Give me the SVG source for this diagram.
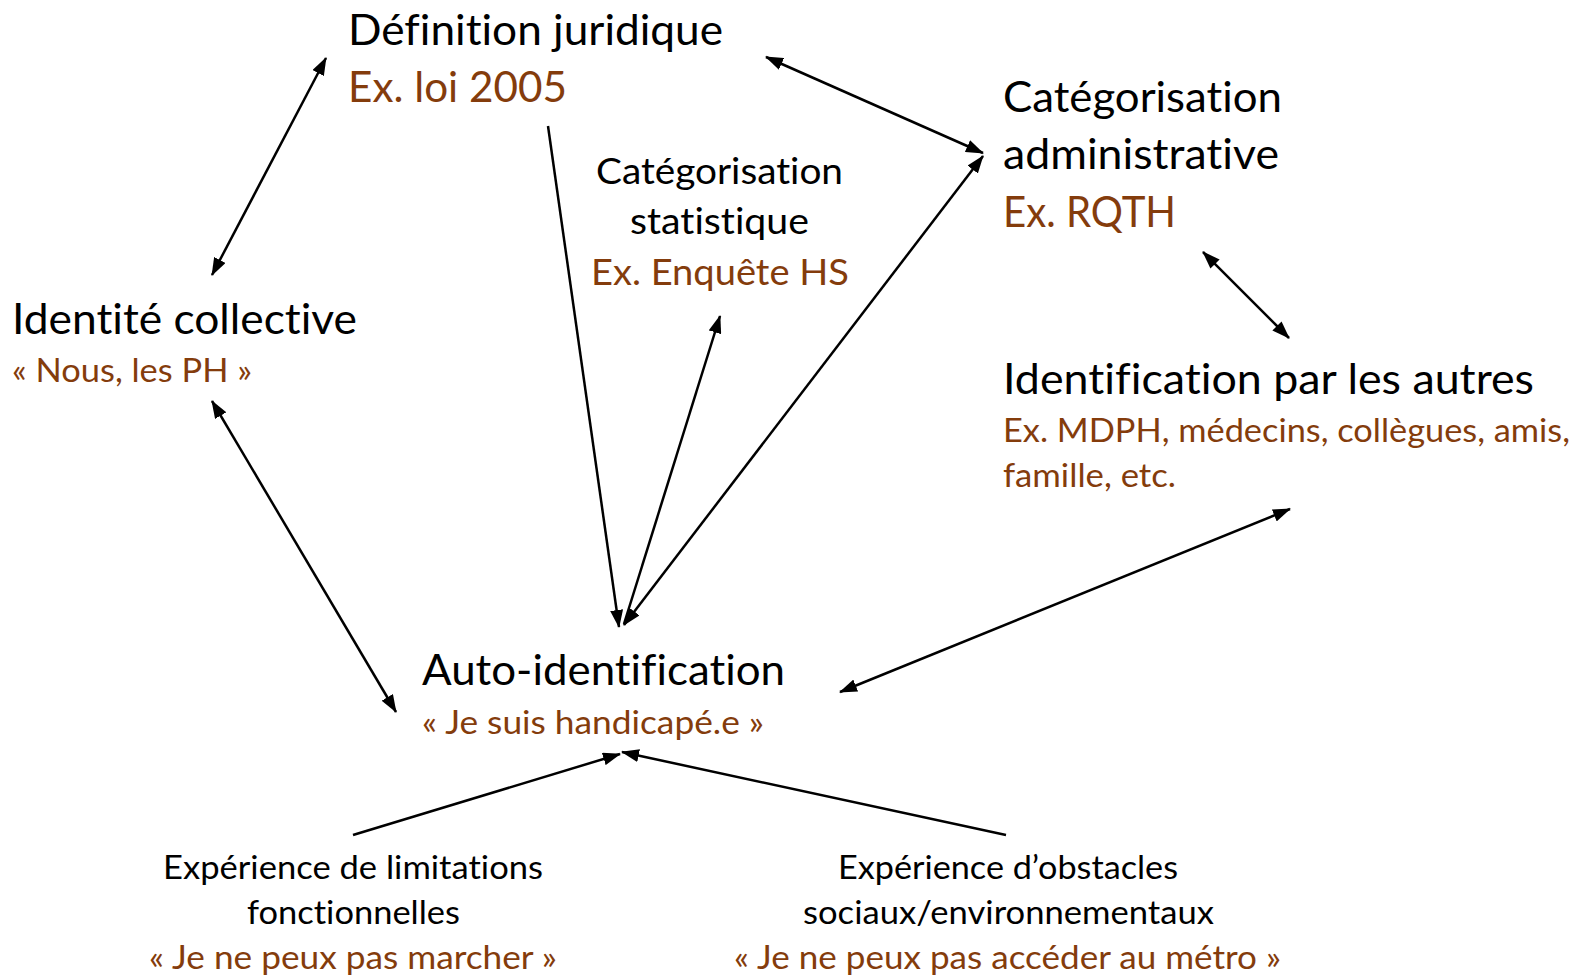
<svg xmlns="http://www.w3.org/2000/svg" width="1581" height="975" viewBox="0 0 1581 975">
<defs>
<style>
text{font-family:Lato,"Noto Sans","Liberation Sans",sans-serif;fill:#000;font-variant-ligatures:none;font-feature-settings:"liga" 0,"clig" 0}
.br{fill:#843C0C}
.big{font-size:42px}
.mid{font-size:37px}
.sm{font-size:33px}
.xs{font-size:32px}
.c line{stroke:#000;stroke-width:2.5;fill:none}
</style>
<marker id="ah" viewBox="0 0 18 13" refX="17" refY="6.5" markerWidth="18" markerHeight="13" markerUnits="userSpaceOnUse" orient="auto-start-reverse">
<path d="M0,0 L18,6.5 L0,13 Z" fill="#000"/>
</marker>
</defs>
<rect width="1581" height="975" fill="#fff"/>
<g id="connectors" class="c">
<line x1="326" y1="58" x2="212" y2="275" marker-start="url(#ah)" marker-end="url(#ah)"/>
<line x1="548" y1="126" x2="619" y2="627" marker-end="url(#ah)"/>
<line x1="624" y1="624" x2="720" y2="316" marker-end="url(#ah)"/>
<line x1="766" y1="57" x2="983" y2="153" marker-start="url(#ah)" marker-end="url(#ah)"/>
<line x1="983" y1="156" x2="624" y2="625" marker-start="url(#ah)" marker-end="url(#ah)"/>
<line x1="1203" y1="252" x2="1289" y2="338" marker-start="url(#ah)" marker-end="url(#ah)"/>
<line x1="1290" y1="509" x2="840" y2="692" marker-start="url(#ah)" marker-end="url(#ah)"/>
<line x1="212" y1="401" x2="396" y2="712" marker-start="url(#ah)" marker-end="url(#ah)"/>
<line x1="353" y1="835" x2="620" y2="754" marker-end="url(#ah)"/>
<line x1="1006" y1="835" x2="622" y2="752" marker-end="url(#ah)"/>
</g>
<g id="definition">
<text class="big" x="348" y="45" textLength="375" lengthAdjust="spacingAndGlyphs">Définition juridique</text>
<text class="big br" x="348" y="102" textLength="219" lengthAdjust="spacingAndGlyphs">Ex. loi 2005</text>
</g>
<g id="statistique">
<text class="mid" x="596" y="184" textLength="247" lengthAdjust="spacingAndGlyphs">Catégorisation</text>
<text class="mid" x="630" y="234" textLength="179" lengthAdjust="spacingAndGlyphs">statistique</text>
<text class="mid br" x="591" y="285" textLength="258" lengthAdjust="spacingAndGlyphs">Ex. Enquête HS</text>
</g>
<g id="administrative">
<text class="big" x="1003" y="112" textLength="279" lengthAdjust="spacingAndGlyphs">Catégorisation</text>
<text class="big" x="1003" y="169" textLength="276" lengthAdjust="spacingAndGlyphs">administrative</text>
<text class="big br" x="1003" y="227" textLength="173" lengthAdjust="spacingAndGlyphs">Ex. RQTH</text>
</g>
<g id="identite-collective">
<text class="big" x="12" y="334" textLength="345" lengthAdjust="spacingAndGlyphs">Identité collective</text>
<text class="sm br" x="12" y="382" textLength="240" lengthAdjust="spacingAndGlyphs">« Nous, les PH »</text>
</g>
<g id="identification-autres">
<text class="big" x="1003" y="394" textLength="531" lengthAdjust="spacingAndGlyphs">Identification par les autres</text>
<text class="sm br" x="1003" y="442" textLength="567" lengthAdjust="spacingAndGlyphs">Ex. MDPH, médecins, collègues, amis,</text>
<text class="sm br" x="1003" y="487" textLength="173" lengthAdjust="spacingAndGlyphs">famille, etc.</text>
</g>
<g id="auto-identification">
<text class="big" x="422" y="685" textLength="363" lengthAdjust="spacingAndGlyphs">Auto-identification</text>
<text class="sm br" x="422" y="734" textLength="342" lengthAdjust="spacingAndGlyphs">« Je suis handicapé.e »</text>
</g>
<g id="limitations">
<text class="xs" x="163" y="879" textLength="380" lengthAdjust="spacingAndGlyphs">Expérience de limitations</text>
<text class="xs" x="247" y="924" textLength="213" lengthAdjust="spacingAndGlyphs">fonctionnelles</text>
<text class="xs br" x="149" y="969" textLength="408" lengthAdjust="spacingAndGlyphs">« Je ne peux pas marcher »</text>
</g>
<g id="obstacles">
<text class="xs" x="838" y="879" textLength="340" lengthAdjust="spacingAndGlyphs">Expérience d’obstacles</text>
<text class="xs" x="803" y="924" textLength="411" lengthAdjust="spacingAndGlyphs">sociaux/environnementaux</text>
<text class="xs br" x="734" y="969" textLength="547" lengthAdjust="spacingAndGlyphs">« Je ne peux pas accéder au métro »</text>
</g>
</svg>
